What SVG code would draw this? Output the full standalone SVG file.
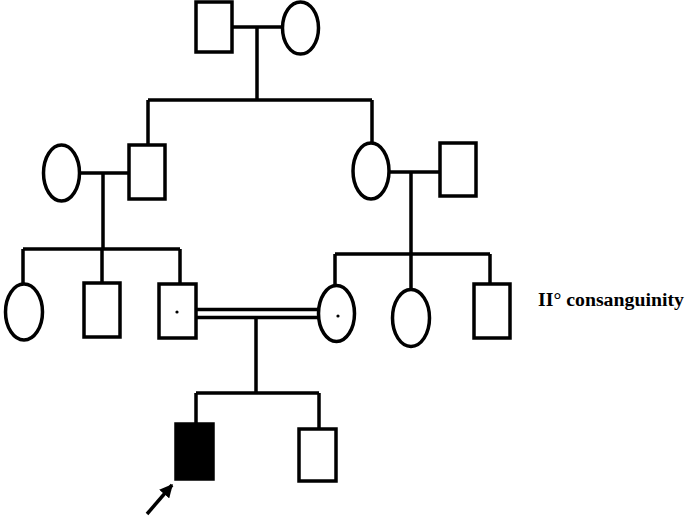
<svg xmlns="http://www.w3.org/2000/svg" width="685" height="519" viewBox="0 0 685 519">
<style>
.n{fill:#fff;stroke:#000;stroke-width:3.5}
.a{fill:#000;stroke:#000;stroke-width:3.5}
.l{fill:none;stroke:#000;stroke-width:3.5}
.d{fill:#000}
text{font-family:"Liberation Serif","Times New Roman",serif;font-weight:bold;font-size:19.8px;fill:#000}
</style>
<defs>
<marker id="ah" viewBox="0 0 10 10" refX="9" refY="5" markerWidth="3.8" markerHeight="3.8" orient="auto" markerUnits="strokeWidth">
<path d="M0,0 L10,5 L0,10 z" fill="#000"/>
</marker>
</defs>
<g id="connectors">
<path class="l" d="M232,27 H283 M257,27 V100 M148,100 H372 M148,100 V145 M372,100 V143"/>
<path class="l" d="M80,173 H129 M103,173 V249 M23,249 H180 M23,249 V284 M102,249 V283 M180,249 V284"/>
<path class="l" d="M389,172 H440 M411,172 V254 M335,254 H490 M335,254 V285 M411,254 V289 M490,254 V284"/>
<path class="l" d="M196,309.5 H319 M196,317.5 H319 M256,317.5 V393 M196,393 H319 M196,393 V423 M319,393 V428"/>
<path class="l" d="M147,514 L172,485" marker-end="url(#ah)"/>
</g>
<g id="I1"><rect class="n" x="196" y="2" width="36" height="50"/></g>
<g id="I2"><ellipse class="n" cx="300.5" cy="28" rx="18" ry="26"/></g>
<g id="II1"><ellipse class="n" cx="61.5" cy="173" rx="18" ry="28"/></g>
<g id="II2"><rect class="n" x="129" y="145" width="36" height="54"/></g>
<g id="II3"><ellipse class="n" cx="371" cy="171" rx="18" ry="28"/></g>
<g id="II4"><rect class="n" x="440" y="143" width="36" height="53"/></g>
<g id="III1"><ellipse class="n" cx="24" cy="312" rx="18.5" ry="28"/></g>
<g id="III2"><rect class="n" x="84" y="283" width="36" height="54"/></g>
<g id="III3"><rect class="n" x="159" y="284" width="37" height="54"/><circle class="d" cx="177" cy="312" r="1.6"/></g>
<g id="III4"><ellipse class="n" cx="336.5" cy="313.5" rx="18" ry="28"/><circle class="d" cx="338" cy="316" r="1.6"/></g>
<g id="III5"><ellipse class="n" cx="411" cy="318" rx="18.5" ry="28.5"/></g>
<g id="III6"><rect class="n" x="474" y="284" width="36" height="54"/></g>
<g id="IV1"><rect class="a" x="176" y="424" width="37" height="55"/></g>
<g id="IV2"><rect class="n" x="299" y="429" width="37" height="52"/></g>
<text x="538" y="306">II° consanguinity</text>
</svg>
